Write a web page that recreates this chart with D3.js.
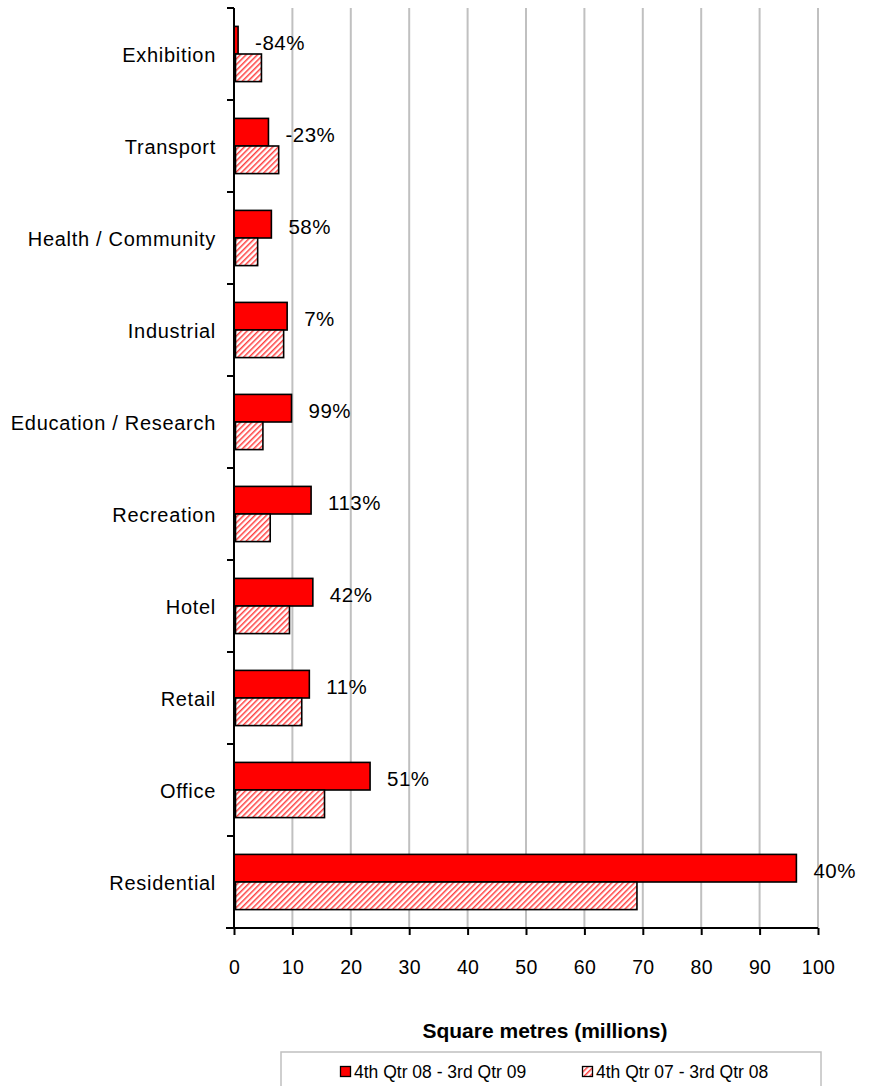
<!DOCTYPE html>
<html>
<head>
<meta charset="utf-8">
<script src="https://cdn.jsdelivr.net/npm/d3@7/dist/d3.min.js"></script>
<style>
  html, body { margin: 0; padding: 0; background: #fff; }
  svg { display: block; font-family: "Liberation Sans", Arial, sans-serif; }
</style>
</head>
<body>
<svg id="chart" width="875" height="1086"></svg>
<script>
// ---- data ----
const categories = ["Exhibition", "Transport", "Health / Community", "Industrial",
  "Education / Research", "Recreation", "Hotel", "Retail", "Office", "Residential"];
const seriesNames = ["4th Qtr 08 - 3rd Qtr 09", "4th Qtr 07 - 3rd Qtr 08"];
const current  = [0.7, 5.9, 6.4, 9.1, 9.85, 13.2, 13.5, 12.9, 23.3, 96.3];
const previous = [4.7, 7.65, 4.05, 8.5, 4.95, 6.2, 9.5, 11.6, 15.5, 69.0];
const changeLabels = ["-84%", "-23%", "58%", "7%", "99%", "113%", "42%", "11%", "51%", "40%"];
const xTicks = [0, 10, 20, 30, 40, 50, 60, 70, 80, 90, 100];
const axisTitle = "Square metres (millions)";

(function () {
// ---- layout ----
const svg = d3.select("#chart");
const pLeft = 234, pRight = 818, pTop = 8, pBottom = 928;

const defs = svg.append("defs");
const pat = defs.append("pattern")
  .attr("id", "hatch").attr("patternUnits", "userSpaceOnUse")
  .attr("width", 4).attr("height", 4)
  .attr("patternTransform", "rotate(45)");
pat.append("rect").attr("width", 4).attr("height", 4).attr("fill", "#fff");
pat.append("rect").attr("x", 0).attr("width", 1.5).attr("height", 4).attr("fill", "#ff4040");

const x = d3.scaleLinear().domain([0, 100]).range([pLeft, pRight]);
const y = d3.scaleBand().domain(categories).range([pTop, pBottom])
  .paddingInner(0.4).paddingOuter(0.2);
const ySub = d3.scaleBand().domain([0, 1]).range([0, y.bandwidth()]);

// gridlines
svg.append("g").selectAll("line")
  .data(xTicks.filter(d => d > 0))
  .join("line")
  .attr("x1", d => x(d)).attr("x2", d => x(d))
  .attr("y1", pTop).attr("y2", pBottom)
  .attr("stroke", "#c0c0c0").attr("stroke-width", 2);

// bars
const rows = categories.map((c, i) => ({ c, cur: current[i], prev: previous[i], lab: changeLabels[i] }));
const g = svg.append("g");
g.selectAll("rect.cur").data(rows).join("rect")
  .attr("class", "cur")
  .attr("x", x(0)).attr("y", d => y(d.c) + ySub(0))
  .attr("width", d => x(d.cur) - x(0)).attr("height", ySub.bandwidth())
  .attr("fill", "#ff0000").attr("stroke", "#000").attr("stroke-width", 1.6);
g.selectAll("rect.prev").data(rows).join("rect")
  .attr("class", "prev")
  .attr("x", x(0) + 1.5).attr("y", d => y(d.c) + ySub(1))
  .attr("width", d => x(d.prev) - x(0) - 1.5).attr("height", ySub.bandwidth())
  .attr("fill", "url(#hatch)").attr("stroke", "#000").attr("stroke-width", 1.6);

// percent labels
g.selectAll("text.lab").data(rows).join("text")
  .attr("class", "lab")
  .attr("x", d => x(d.cur) + 17)
  .attr("y", d => y(d.c) + ySub(0) + ySub.bandwidth() / 2 + 4)
  .attr("dominant-baseline", "middle")
  .attr("font-size", 20.5).attr("letter-spacing", 0.5)
  .attr("fill", "#000")
  .text(d => d.lab);

// x axis
const xAxis = svg.append("g").attr("transform", `translate(0,${pBottom})`)
  .call(d3.axisBottom(x).tickValues(xTicks).tickSize(7).tickPadding(25).tickSizeOuter(0));
xAxis.select(".domain").attr("stroke", "#000").attr("stroke-width", 2)
  .attr("d", `M${pLeft - 8},0H${pRight}`);
xAxis.selectAll(".tick line").attr("stroke", "#000").attr("stroke-width", 2);
xAxis.selectAll(".tick text").attr("font-size", 19.5).attr("fill", "#000")
  .attr("font-family", "Liberation Sans, Arial, sans-serif").attr("letter-spacing", 0.3);

// y axis line and boundary ticks
svg.append("line").attr("x1", pLeft).attr("x2", pLeft).attr("y1", pTop).attr("y2", pBottom)
  .attr("stroke", "#000").attr("stroke-width", 2);
const boundaries = d3.range(categories.length + 1).map(i => pTop + i * y.step());
svg.append("g").selectAll("line").data(boundaries).join("line")
  .attr("x1", pLeft - 7).attr("x2", pLeft).attr("y1", d => d).attr("y2", d => d)
  .attr("stroke", "#000").attr("stroke-width", 2);

// category labels
svg.append("g").selectAll("text").data(categories).join("text")
  .attr("x", 216).attr("y", d => y(d) + y.bandwidth() / 2 + 3)
  .attr("text-anchor", "end").attr("dominant-baseline", "middle")
  .attr("font-size", 20).attr("letter-spacing", 0.7).attr("fill", "#000")
  .text(d => d);

// axis title
svg.append("text").attr("x", 545).attr("y", 1032)
  .attr("text-anchor", "middle").attr("dominant-baseline", "middle")
  .attr("font-size", 21).attr("font-weight", "bold").attr("fill", "#000")
  .text(axisTitle);

// legend
svg.append("rect").attr("x", 281).attr("y", 1052).attr("width", 540).attr("height", 60)
  .attr("fill", "#fff").attr("stroke", "#c0c0c0").attr("stroke-width", 1.5);
const legendX = [340, 582];
const lg = svg.append("g").selectAll("g").data(seriesNames).join("g")
  .attr("transform", (d, i) => `translate(${legendX[i]},1066)`);
lg.append("rect").attr("x", 0.5).attr("y", 0.5).attr("width", 10).attr("height", 10)
  .attr("fill", (d, i) => i === 0 ? "#ff0000" : "url(#hatch)")
  .attr("stroke", "#000").attr("stroke-width", 1.3);
lg.append("text").attr("x", 14).attr("y", 7.5)
  .attr("dominant-baseline", "middle").attr("font-size", 17.5).attr("fill", "#000")
  .text(d => d);
})();
</script>
</body>
</html>
